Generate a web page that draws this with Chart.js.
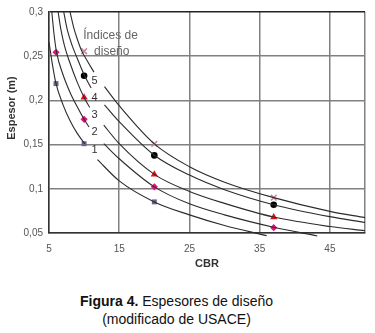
<!DOCTYPE html>
<html>
<head>
<meta charset="utf-8">
<script src="https://cdn.jsdelivr.net/npm/chart.js@4.4.1/dist/chart.umd.min.js"></script>
<style>
  body { margin: 0; background: #fff; }
  #wrap { position: relative; width: 375px; height: 333px; overflow: hidden; }
  #caption {
    position: absolute; left: -11px; top: 292px; width: 375px;
    text-align: center; font-family: "Liberation Sans", Arial, sans-serif;
    font-size: 14px; line-height: 18px; color: #111;
  }
</style>
</head>
<body>
<div id="wrap">
  <canvas id="chart" width="375" height="275"></canvas>
  <div id="caption"><b>Figura 4.</b> Espesores de diseño<br>(modificado de USACE)</div>
</div>
<script>
// curves: [CBR, espesor]; null = gap for the curve label
const curve1 = [[5, 0.266], [5.5, 0.24], [6, 0.219], [7, 0.195], [8, 0.177], [9, 0.163], [10.1, 0.151],
  [11, null], [11.9, 0.133], [15, 0.109], [20, 0.0852], [25, 0.0705], [30, 0.0585], [36, 0.047]];
const curve2 = [[5.4, 0.3], [5.7, 0.276], [6.08, 0.2544], [7, 0.229], [8, 0.209], [9, 0.193], [10, 0.1786], [10.7, 0.17],
  [11.8, null], [12.8, 0.151], [15, 0.134], [20, 0.1022], [25, 0.083], [30, 0.0705], [37, 0.0565], [43.2, 0.0467]];
const curve3 = [[6.3, 0.3], [6.7, 0.28], [7.2, 0.262], [8, 0.242], [9, 0.221], [10, 0.2033], [10.8, 0.192],
  [11.8, null], [12.8, 0.172], [15, 0.151], [20, 0.1163], [25, 0.097], [30, 0.0835], [37, 0.068], [45, 0.0573], [50, 0.0526]];
const curve4 = [[7.1, 0.3], [7.6, 0.28], [8.3, 0.262], [9, 0.248], [10, 0.229], [11, 0.214],
  [12, null], [12.9, 0.195], [15, 0.176], [20, 0.138], [25, 0.1155], [30, 0.099], [37, 0.082], [45, 0.0685], [50, 0.0619]];
const curve5 = [[8, 0.3], [8.5, 0.283], [9, 0.27], [9.6, 0.257], [10.5, 0.244], [11.4, 0.232],
  [12.1, null], [12.9, 0.2156], [15, 0.194], [20, 0.1508], [25, 0.125], [30, 0.1075], [37, 0.09], [45, 0.0745], [50, 0.0674]];

// design index markers
const markerCbr = [6, 10, 20, 37];
const squares = [0.219, 0.151, 0.0852, null];
const diamonds = [0.2544, 0.1786, 0.1022, 0.056];
const triangles = [null, 0.2033, 0.1163, 0.068];
const circles = [null, 0.2278, 0.1378, 0.082];
const crosses = [null, 0.2556, 0.1508, 0.09];

const xTickValues = [5, 15, 25, 35, 45, 50];
const xTickLabels = ["5", "15", "25", "35", "45", ""];
const yTickLabels = ["0,05", "0,1", "0,15", "0,2", "0,25", "0,3"];

const curveLabels = ["5", "4", "3", "2", "1"];
const curveLabelCbr = 11.5;
const curveLabelEsp = [0.2225, 0.2031, 0.1839, 0.1642, 0.1441];

const FONT = "'Liberation Sans', Arial, sans-serif";

function curveSet(pts) {
  return {
    type: "line",
    data: pts.map(p => ({ x: p[0], y: p[1] })),
    borderColor: "#2b2b2b",
    borderWidth: 1.1,
    pointRadius: 0,
    cubicInterpolationMode: "monotone",
    spanGaps: false,
    clip: { left: 0, top: 0, right: 0, bottom: 5 },
  };
}

function markerSet(vals, style, color, radius, filled) {
  return {
    type: "scatter",
    data: markerCbr.map((c, i) => ({ x: c, y: vals[i] })).filter(p => p.y !== null),
    showLine: false,
    pointStyle: style,
    pointRadius: radius,
    pointBackgroundColor: filled ? color : "transparent",
    pointBorderColor: color,
    pointBorderWidth: filled ? 0 : 1.6,
  };
}

const textPlugin = {
  id: "texts",
  afterDatasetsDraw(chart) {
    const { ctx, scales } = chart;
    const px = v => scales.x.getPixelForValue(v);
    const py = v => scales.y.getPixelForValue(v);
    ctx.save();
    ctx.textBaseline = "middle";
    ctx.fillStyle = "#333";
    ctx.font = "11px " + FONT;
    ctx.textAlign = "center";
    curveLabels.forEach((t, i) => ctx.fillText(t, px(curveLabelCbr), py(curveLabelEsp[i])));
    ctx.fillStyle = "#666";
    ctx.font = "12px " + FONT;
    ctx.textAlign = "left";
    ctx.fillText("Índices de", px(9.87), py(0.2733));
    ctx.fillText("diseño", px(11.42), py(0.2554));
    // y axis title
    ctx.fillStyle = "#333";
    ctx.font = "bold 11px " + FONT;
    ctx.translate(12, 108);
    ctx.rotate(-Math.PI / 2);
    ctx.textAlign = "center";
    ctx.fillText("Espesor (m)", 0, 0);
    ctx.restore();
  },
};

new Chart(document.getElementById("chart"), {
  type: "line",
  data: {
    datasets: [
      curveSet(curve1), curveSet(curve2), curveSet(curve3), curveSet(curve4), curveSet(curve5),
      markerSet(squares, "rect", "#66668a", 3.5, true),
      markerSet(diamonds, "rectRot", "#e4127c", 3.6, true),
      markerSet(triangles, "triangle", "#e3141c", 4.2, true),
      markerSet(circles, "circle", "#000", 3.3, true),
      markerSet(crosses, "crossRot", "#c58aa0", 4, false),
    ],
  },
  options: {
    responsive: false,
    animation: false,
    devicePixelRatio: 1,
    layout: { padding: { top: 9, right: 6.5, left: 0, bottom: 0 } },
    plugins: { legend: { display: false }, tooltip: { enabled: false } },
    scales: {
      x: {
        type: "linear",
        min: 5,
        max: 50,
        afterBuildTicks: s => { s.ticks = xTickValues.map(v => ({ value: v })); },
        ticks: {
          padding: 10,
          color: "#555",
          font: { family: FONT, size: 10 },
          maxRotation: 0,
          autoSkip: false,
          callback: (v, i) => xTickLabels[i] ?? "",
        },
        grid: { color: "#808080", lineWidth: 1.5, drawTicks: false },
        border: { color: "#333", width: 1.5 },
        title: {
          display: true,
          text: "CBR",
          color: "#333",
          font: { family: FONT, size: 11, weight: "bold" },
          padding: { top: 0, bottom: 4 },
        },
        afterFit: s => { s.height = 42; },
      },
      y: {
        type: "linear",
        min: 0.05,
        max: 0.3,
        ticks: {
          stepSize: 0.05,
          padding: 6,
          color: "#555",
          font: { family: FONT, size: 10 },
          callback: (v, i) => yTickLabels[i] ?? "",
        },
        grid: {
          color: c => (c.index === yTickLabels.length - 1 ? "#222" : "#808080"),
          lineWidth: 1.5,
          drawTicks: false,
        },
        border: { color: "#333", width: 1.5 },
        afterFit: s => { s.width = 49; },
      },
    },
  },
  plugins: [textPlugin],
});
</script>
</body>
</html>
